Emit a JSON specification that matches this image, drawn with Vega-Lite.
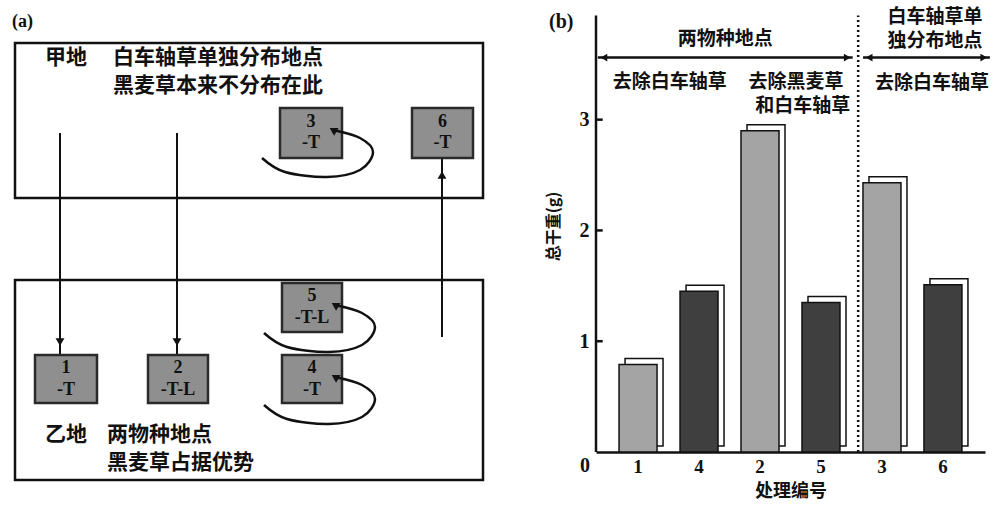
{
  "$schema": "https://vega.github.io/schema/vega-lite/v6.json",
  "background": "white",
  "padding": 0,
  "spacing": 45,
  "config": {"view": {"stroke": null}, "font": "Noto Sans CJK SC"},
  "datasets": {
    "frames": [
      {"x": 3, "x2": 96.6, "y": 8.6, "y2": 39.6},
      {"x": 3, "x2": 96.6, "y": 56, "y2": 96}
    ],
    "cells": [
      {"id": "3", "x": 56, "x2": 68.4, "y": 21.6, "y2": 31.6},
      {"id": "6", "x": 82.4, "x2": 94.6, "y": 21.6, "y2": 31.6},
      {"id": "1", "x": 7, "x2": 19.4, "y": 71, "y2": 80.6},
      {"id": "2", "x": 29.6, "x2": 41.6, "y": 71, "y2": 80.6},
      {"id": "5", "x": 56.4, "x2": 68.4, "y": 56.6, "y2": 66.4},
      {"id": "4", "x": 56.4, "x2": 68.4, "y": 71, "y2": 80.6}
    ],
    "cellText": [
      {"t": "3", "x": 62.2, "y": 24.4}, {"t": "-T", "x": 62.2, "y": 28.6},
      {"t": "6", "x": 88.5, "y": 24.4}, {"t": "-T", "x": 88.5, "y": 28.6},
      {"t": "1", "x": 13.2, "y": 73.6}, {"t": "-T", "x": 13.2, "y": 78},
      {"t": "2", "x": 35.6, "y": 73.6}, {"t": "-T-L", "x": 35.6, "y": 78},
      {"t": "5", "x": 62.4, "y": 59.2}, {"t": "-T-L", "x": 62.4, "y": 63.6},
      {"t": "4", "x": 62.4, "y": 73.6}, {"t": "-T", "x": 62.4, "y": 78}
    ],
    "aLabels": [
      {"t": "甲地", "x": 9, "y": 11.5},
      {"t": "白车轴草单独分布地点", "x": 22.6, "y": 11.5},
      {"t": "黑麦草本来不分布在此", "x": 22.6, "y": 17.2},
      {"t": "乙地", "x": 9, "y": 87},
      {"t": "两物种地点", "x": 21.4, "y": 87},
      {"t": "黑麦草占据优势", "x": 21.4, "y": 92.6}
    ],
    "aTitle": [{"t": "(a)", "x": 2.4, "y": 4.4}],
    "aLines": [
      {"x": 12, "x2": 12, "y": 26.6, "y2": 73.6},
      {"x": 35.4, "x2": 35.4, "y": 26.6, "y2": 73.6},
      {"x": 88.4, "x2": 88.4, "y": 67.4, "y2": 29}
    ],
    "aHeads": [
      {"dir": "down", "x": 12, "y": 68.4},
      {"dir": "down", "x": 35.4, "y": 68.4},
      {"dir": "up", "x": 88.4, "y": 35},
      {"dir": "curl", "x": 66.6, "y": 26},
      {"dir": "curl", "x": 67, "y": 61},
      {"dir": "curl", "x": 67, "y": 75.4}
    ],
    "curves": [
      {"c": "3", "o": 1, "x": 52.4, "y": 31.6}, {"c": "3", "o": 2, "x": 57, "y": 34.4},
      {"c": "3", "o": 3, "x": 65.4, "y": 35.4}, {"c": "3", "o": 4, "x": 72, "y": 34},
      {"c": "3", "o": 5, "x": 74.6, "y": 30.4}, {"c": "3", "o": 6, "x": 72, "y": 27.6},
      {"c": "3", "o": 7, "x": 66.6, "y": 26},
      {"c": "5", "o": 1, "x": 52.8, "y": 66.6}, {"c": "5", "o": 2, "x": 57.4, "y": 69.4},
      {"c": "5", "o": 3, "x": 65.8, "y": 70.4}, {"c": "5", "o": 4, "x": 72.4, "y": 69},
      {"c": "5", "o": 5, "x": 75, "y": 65.4}, {"c": "5", "o": 6, "x": 72.4, "y": 62.6},
      {"c": "5", "o": 7, "x": 67, "y": 61},
      {"c": "4", "o": 1, "x": 52.8, "y": 81}, {"c": "4", "o": 2, "x": 57.4, "y": 83.8},
      {"c": "4", "o": 3, "x": 65.8, "y": 84.8}, {"c": "4", "o": 4, "x": 72.4, "y": 83.4},
      {"c": "4", "o": 5, "x": 75, "y": 79.8}, {"c": "4", "o": 6, "x": 72.4, "y": 77},
      {"c": "4", "o": 7, "x": 67, "y": 75.4}
    ],
    "bars": [
      {"k": "1", "v": 0.79, "g": "light"},
      {"k": "4", "v": 1.45, "g": "dark"},
      {"k": "2", "v": 2.9, "g": "light"},
      {"k": "5", "v": 1.35, "g": "dark"},
      {"k": "3", "v": 2.43, "g": "light"},
      {"k": "6", "v": 1.51, "g": "dark"}
    ],
    "bLines": [
      {"kind": "solid", "x": 0.31, "x2": 0.31, "y": 0, "y2": 3.94},
      {"kind": "solid", "x": 0.34, "x2": 4.52, "y": 3.56, "y2": 3.56},
      {"kind": "solid", "x": 4.69, "x2": 6.77, "y": 3.56, "y2": 3.56},
      {"kind": "solid", "x": 0.31, "x2": 0.42, "y": 1, "y2": 1},
      {"kind": "solid", "x": 0.31, "x2": 0.42, "y": 2, "y2": 2},
      {"kind": "solid", "x": 0.31, "x2": 0.42, "y": 3, "y2": 3},
      {"kind": "dotted", "x": 4.61, "x2": 4.61, "y": 0, "y2": 3.94}
    ],
    "bHeads": [
      {"dir": "left", "x": 0.44, "y": 3.56},
      {"dir": "right", "x": 4.43, "y": 3.56},
      {"dir": "left", "x": 4.79, "y": 3.56},
      {"dir": "right", "x": 6.67, "y": 3.56}
    ],
    "bTexts": [
      {"t": "两物种地点", "x": 2.43, "y": 3.73},
      {"t": "去除白车轴草", "x": 1.52, "y": 3.34},
      {"t": "去除黑麦草", "x": 3.59, "y": 3.34},
      {"t": "和白车轴草", "x": 3.7, "y": 3.12},
      {"t": "白车轴草单", "x": 5.87, "y": 3.93},
      {"t": "独分布地点", "x": 5.87, "y": 3.71},
      {"t": "去除白车轴草", "x": 5.82, "y": 3.33}
    ],
    "bLatin": [
      {"t": "(b)", "x": -0.26, "y": 3.88},
      {"t": "0", "x": 0.13, "y": -0.13}
    ]
  },
  "hconcat": [
    {
      "width": 500,
      "height": 500,
      "encoding": {
        "x": {"field": "x", "type": "quantitative", "scale": {"domain": [0, 100], "nice": false, "zero": false}, "axis": null},
        "y": {"field": "y", "type": "quantitative", "scale": {"domain": [0, 100], "reverse": true, "nice": false, "zero": false}, "axis": null}
      },
      "layer": [
        {
          "data": {"name": "frames"},
          "mark": {"type": "rect", "fill": "transparent", "stroke": "#111", "strokeWidth": 2.5},
          "encoding": {"x2": {"field": "x2"}, "y2": {"field": "y2"}}
        },
        {
          "data": {"name": "aLines"},
          "mark": {"type": "rule", "stroke": "#111", "strokeWidth": 2},
          "encoding": {"x2": {"field": "x2"}, "y2": {"field": "y2"}}
        },
        {
          "data": {"name": "cells"},
          "mark": {"type": "rect", "fill": "#8f8f8f", "stroke": "#2a2a2a", "strokeWidth": 2.5},
          "encoding": {"x2": {"field": "x2"}, "y2": {"field": "y2"}}
        },
        {
          "data": {"name": "curves"},
          "mark": {"type": "line", "interpolate": "cardinal", "stroke": "#111", "strokeWidth": 2.5},
          "encoding": {"detail": {"field": "c"}, "order": {"field": "o", "type": "quantitative"}}
        },
        {
          "data": {"name": "aHeads"},
          "transform": [{"filter": "datum.dir === 'down'"}],
          "mark": {"type": "point", "shape": "triangle-down", "filled": true, "color": "#111", "size": 80, "opacity": 1}
        },
        {
          "data": {"name": "aHeads"},
          "transform": [{"filter": "datum.dir === 'up'"}],
          "mark": {"type": "point", "shape": "triangle-up", "filled": true, "color": "#111", "size": 80, "opacity": 1}
        },
        {
          "data": {"name": "aHeads"},
          "transform": [{"filter": "datum.dir === 'curl'"}],
          "mark": {"type": "point", "shape": "triangle-left", "angle": 30, "filled": true, "color": "#111", "size": 80, "opacity": 1}
        },
        {
          "data": {"name": "cellText"},
          "mark": {"type": "text", "font": "Liberation Serif", "fontWeight": "bold", "fontSize": 18, "color": "#111", "align": "center", "baseline": "middle"},
          "encoding": {"text": {"field": "t"}}
        },
        {
          "data": {"name": "aLabels"},
          "mark": {"type": "text", "font": "Noto Sans CJK SC", "fontWeight": "bold", "fontSize": 21, "color": "#111", "align": "left", "baseline": "middle"},
          "encoding": {"text": {"field": "t"}}
        },
        {
          "data": {"name": "aTitle"},
          "mark": {"type": "text", "font": "Liberation Serif", "fontWeight": "bold", "fontSize": 18, "color": "#111", "align": "left", "baseline": "middle"},
          "encoding": {"text": {"field": "t"}}
        }
      ]
    },
    {
      "width": 389,
      "height": 452,
      "layer": [
        {
          "data": {"name": "bars"},
          "encoding": {
            "x": {
              "field": "k", "type": "ordinal",
              "scale": {"domain": ["1", "4", "2", "5", "3", "6"], "paddingInner": 0.377, "paddingOuter": 0.378},
              "axis": {
                "title": "处理编号", "titleFont": "Noto Sans CJK SC", "titleFontSize": 18, "titleFontWeight": "bold", "titleColor": "#111", "titlePadding": 6,
                "labelFont": "Liberation Serif", "labelFontSize": 19, "labelFontWeight": "bold", "labelColor": "#111", "labelPadding": 5, "labelAngle": 0,
                "ticks": false, "domainColor": "#111", "domainWidth": 2.5
              }
            },
            "y": {
              "field": "v", "type": "quantitative",
              "scale": {"domain": [0, 4.08], "nice": false},
              "axis": {
                "title": "总干重(g)", "titleFont": "Noto Sans CJK SC", "titleFontSize": 16, "titleFontWeight": "bold", "titleColor": "#111", "titlePadding": 18,
                "values": [1, 2, 3], "format": "d", "grid": false, "domain": false, "ticks": false,
                "labelFont": "Liberation Serif", "labelFontSize": 20, "labelFontWeight": "bold", "labelColor": "#111", "labelPadding": 7
              }
            }
          },
          "layer": [
            {
              "mark": {"type": "bar", "fill": "white", "stroke": "#111", "strokeWidth": 1.5, "xOffset": 6, "x2Offset": 6, "yOffset": -6}
            },
            {
              "mark": {"type": "bar", "stroke": "#111", "strokeWidth": 1.5},
              "encoding": {
                "color": {"field": "g", "type": "nominal", "scale": {"domain": ["light", "dark"], "range": ["#a4a4a4", "#3f3f3f"]}, "legend": null}
              }
            }
          ]
        },
        {
          "encoding": {
            "x": {"field": "x", "type": "quantitative", "scale": {"domain": [0.31, 6.69], "nice": false, "zero": false}, "axis": null},
            "y": {"field": "y", "type": "quantitative", "scale": {"domain": [0, 4.08], "nice": false}}
          },
          "layer": [
            {
              "data": {"name": "bLines"},
              "transform": [{"filter": "datum.kind === 'solid'"}],
              "mark": {"type": "rule", "stroke": "#111", "strokeWidth": 2.5},
              "encoding": {"x2": {"field": "x2"}, "y2": {"field": "y2"}}
            },
            {
              "data": {"name": "bLines"},
              "transform": [{"filter": "datum.kind === 'dotted'"}],
              "mark": {"type": "rule", "stroke": "#111", "strokeWidth": 2.5, "strokeDash": [2, 3]},
              "encoding": {"x2": {"field": "x2"}, "y2": {"field": "y2"}}
            },
            {
              "data": {"name": "bHeads"},
              "transform": [{"filter": "datum.dir === 'left'"}],
              "mark": {"type": "point", "shape": "triangle-left", "filled": true, "color": "#111", "size": 60, "opacity": 1}
            },
            {
              "data": {"name": "bHeads"},
              "transform": [{"filter": "datum.dir === 'right'"}],
              "mark": {"type": "point", "shape": "triangle-right", "filled": true, "color": "#111", "size": 60, "opacity": 1}
            },
            {
              "data": {"name": "bTexts"},
              "mark": {"type": "text", "font": "Noto Sans CJK SC", "fontWeight": "bold", "fontSize": 19, "color": "#111", "align": "center", "baseline": "middle"},
              "encoding": {"text": {"field": "t"}}
            },
            {
              "data": {"name": "bLatin"},
              "mark": {"type": "text", "font": "Liberation Serif", "fontWeight": "bold", "fontSize": 20, "color": "#111", "align": "center", "baseline": "middle"},
              "encoding": {"text": {"field": "t"}}
            }
          ]
        }
      ],
      "resolve": {"scale": {"x": "independent"}}
    }
  ]
}
